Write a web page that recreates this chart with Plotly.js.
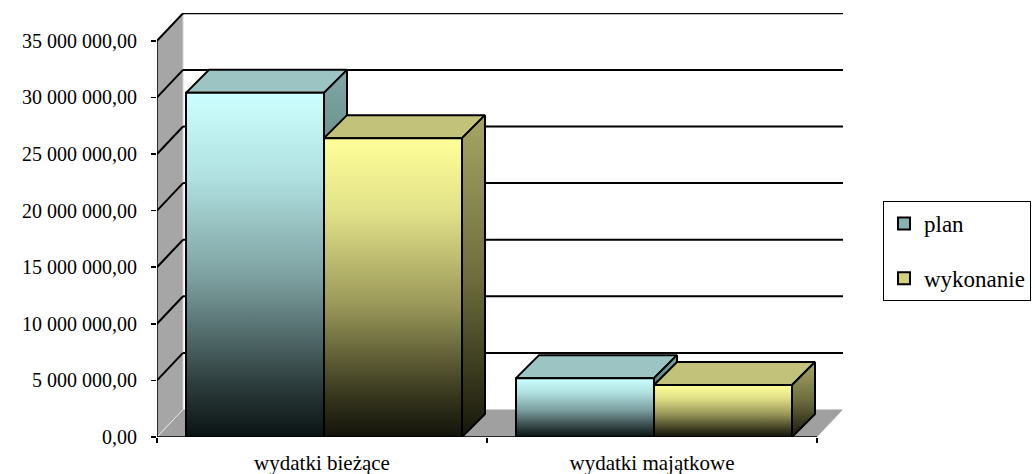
<!DOCTYPE html>
<html>
<head>
<meta charset="utf-8">
<script src="https://cdn.plot.ly/plotly-3.0.1.min.js"></script>
<style>html,body{margin:0;padding:0;background:#fff;}#chart{width:1035px;height:474px;}</style>
</head>
<body>
<div id="chart"></div>
<script>
// ---- data ----
const categories = ['wydatki bieżące', 'wydatki majątkowe'];
const seriesNames = ['plan', 'wykonanie'];
const planValues = [30400000, 5200000];
const wykonanieValues = [26400000, 4600000];
const yTickVals = [0, 5000000, 10000000, 15000000, 20000000, 25000000, 30000000, 35000000];

// ---- geometry (pixel-based styling converted to axis units) ----
const W = 1035, H = 474;
const M = {l: 157, r: 192, t: 13, b: 37, autoexpand: false};
const plotW = W - M.l - M.r;            // 686
const plotH = H - M.t - M.b;            // 424
const pxPerCat = 330;
const pxPerUnitY = 56.6 / 5000000;
const xMax = plotW / pxPerCat;
const yMax = plotH / pxPerUnitY;
const px2x = p => p / pxPerCat;
const px2y = p => p / pxPerUnitY;
const WX = px2x(26), WY = px2y(27.5);   // wall depth
const BX = px2x(23), BY = px2y(23);     // bar depth
const barOff = px2x(29), barW = px2x(138);
const yTop = yTickVals[yTickVals.length - 1];

const styles = [
  {top: '#9cc4c2', side: [[0,'#0e1818'],[0.5,'#4f6e6c'],[1,'#80a8a6']],
   front: [[0,'#0a1212'],[0.15,'#2c3c3c'],[0.45,'#7a9c9c'],[0.75,'#b0e0e0'],[1,'#ccffff']], legend: '#86b2b2'},
  {top: '#c2c27a', side: [[0,'#16160a'],[0.5,'#6e6e3e'],[1,'#a6a666']],
   front: [[0,'#12120a'],[0.15,'#3a3a20'],[0.45,'#9c9a5a'],[0.75,'#e0e088'],[1,'#ffff99']], legend: '#d2d27a'}
];
const seriesValues = [planValues, wykonanieValues];

const traces = [];
const outline = {color: '#000', width: 2};
categories.forEach((cat, ci) => {
  seriesValues.forEach((vals, si) => {
    const v = vals[ci];
    const x0 = ci + barOff + si * barW, x1 = x0 + barW;
    const st = styles[si];
    traces.push({type: 'scatter', mode: 'lines', fill: 'toself', fillcolor: st.top, line: outline,
      x: [x0, x1, x1 + BX, x0 + BX, x0], y: [v, v, v + BY, v + BY, v],
      hoverinfo: 'skip', showlegend: false});
    traces.push({type: 'scatter', mode: 'lines', fill: 'toself', line: outline,
      fillgradient: {type: 'vertical', colorscale: st.side},
      x: [x1, x1 + BX, x1 + BX, x1, x1], y: [0, BY, v + BY, v, 0],
      hoverinfo: 'skip', showlegend: false});
    traces.push({type: 'scatter', mode: 'lines', fill: 'toself', line: outline,
      fillgradient: {type: 'vertical', colorscale: st.front},
      x: [x0, x1, x1, x0, x0], y: [0, 0, v, v, 0],
      hoverinfo: 'skip', showlegend: false});
  });
});
seriesNames.forEach((name, si) => {
  traces.push({type: 'bar', name: name, x: [null], y: [null], legendgroup: 'g' + si,
    marker: {color: styles[si].legend, line: {color: '#000', width: 2}}, hoverinfo: 'skip'});
});

const shapes = [];
shapes.push({type: 'path', layer: 'below', xref: 'x', yref: 'y',
  path: `M 0 0 L 0 ${yTop} L ${WX} ${yTop + WY} L ${WX} ${WY} Z`,
  fillcolor: '#a6a6a6', line: {width: 0}});
shapes.push({type: 'path', layer: 'below', xref: 'x', yref: 'y',
  path: `M 0 0 L ${categories.length} 0 L ${categories.length + WX} ${WY} L ${WX} ${WY} Z`,
  fillcolor: '#a0a0a0', line: {width: 0}});
shapes.push({type: 'line', layer: 'below', x0: 0, y0: 0, x1: WX, y1: WY, line: {color: '#e8e8e8', width: 1}});
shapes.push({type: 'line', layer: 'below', x0: WX, y0: WY, x1: WX, y1: yTop + WY, line: {color: '#d0d0d0', width: 1}});
yTickVals.forEach(v => {
  if (v === 0) return;
  shapes.push({type: 'line', layer: 'below', x0: 0, y0: v, x1: WX, y1: v + WY, line: {color: '#000', width: 2}});
  shapes.push({type: 'line', layer: 'below', x0: WX, y0: v + WY, x1: xMax, y1: v + WY, line: {color: '#000', width: 2}});
});
shapes.push({type: 'line', layer: 'below', x0: 0, y0: 0, x1: 0, y1: yTop, line: {color: '#000', width: 1.5}});
shapes.push({type: 'line', layer: 'above', x0: 0, y0: 0, x1: categories.length, y1: 0, line: {color: '#000', width: 1.5}});

const font = 'Liberation Serif';
const layout = {
  width: W, height: H,
  margin: M,
  paper_bgcolor: '#fff', plot_bgcolor: 'rgba(0,0,0,0)',
  separators: ', ',
  showlegend: true,
  xaxis: {range: [0, xMax], showgrid: false, zeroline: false, showline: false,
    tickvals: [0.5, 1.5], ticktext: categories, ticks: '', ticklabelstandoff: 11,
    tickfont: {family: font, size: 21, color: '#000'},
    minor: {tickvals: [0, 1, 2], ticks: 'outside', ticklen: 5, tickcolor: '#000', tickwidth: 1.5, showgrid: false},
    fixedrange: true},
  yaxis: {range: [0, yMax], showgrid: false, zeroline: false, showline: false,
    tickvals: yTickVals, tickformat: ',.2f', ticks: 'outside', ticklen: 5, tickcolor: '#000', tickwidth: 1.5,
    ticklabelstandoff: 10,
    tickfont: {family: font, size: 20, color: '#000'}, fixedrange: true},
  legend: {x: (883 - M.l) / plotW, y: (M.t + plotH - 201) / plotH, xanchor: 'left', yanchor: 'top',
    bgcolor: '#fff', bordercolor: '#000', borderwidth: 1, tracegroupgap: 22,
    font: {family: font, size: 23, color: '#000'}, traceorder: 'grouped'},
  shapes: shapes
};
Plotly.newPlot('chart', traces, layout, {staticPlot: true, displayModeBar: false});
</script>
</body>
</html>
